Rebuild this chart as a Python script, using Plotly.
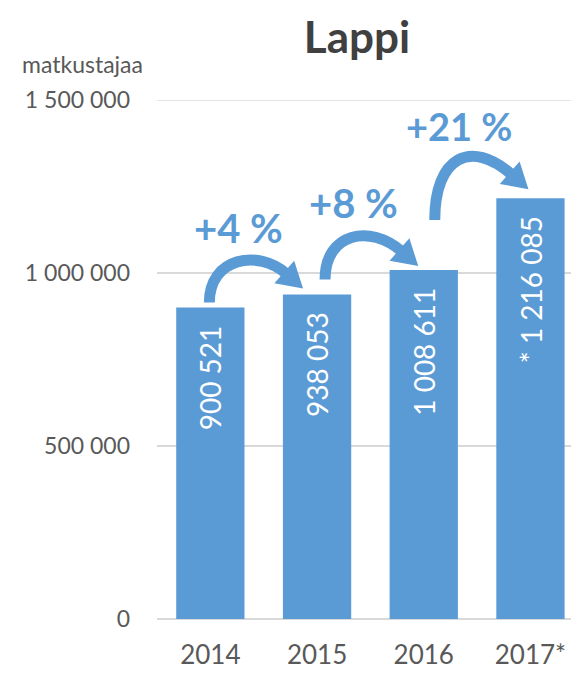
import plotly.graph_objects as go
import math

# ---- data ----
years = ["2014", "2015", "2016", "2017*"]
travellers = [900521, 938053, 1008611, 1216085]
label_prefix = ["", "", "", "* "]
y_tick_vals = [0, 500000, 1000000, 1500000]
y_tick_text = ["0", "500 000", "1 000 000", "1 500 000"]

BLUE = "#5B9BD5"
GREY = "#595959"
FONT = "Lato"

W, H = 571, 673
L, R, T, B = 157, 571, 100, 619
X0, X1 = -0.5, 3.38
Y0, Y1 = 0, 1500000

def px_x(xd):
    return L + (xd - X0) / (X1 - X0) * (R - L)

def px_y(yd):
    return B - (yd - Y0) / (Y1 - Y0) * (B - T)

def d_x(px):
    return X0 + (px - L) / (R - L) * (X1 - X0)

def d_y(py):
    return Y0 + (B - py) / (B - T) * (Y1 - Y0)

def fmt(v):
    return f"{v:,}".replace(",", " ")

xs = list(range(len(years)))

fig = go.Figure()
fig.add_trace(go.Bar(x=xs, y=travellers, width=0.64, marker=dict(color=BLUE, line=dict(width=0)),
                     hoverinfo="skip"))

annotations = []
# value labels inside bars
for i, v in enumerate(travellers):
    annotations.append(dict(x=i, y=v, xref="x", yref="y", text=label_prefix[i] + fmt(v),
                            textangle=-90, showarrow=False, yanchor="top", xanchor="center",
                            yshift=-16, font=dict(family=FONT, size=28, color="white")))

# curved arrows (pixel offsets relative to bar tops / centres)
arrow_tail_dx = [-1, 8, 11]
arrow_tail_dy = [-5, -15, -50]
arrow_tip_dx = [-14, -5.5, -2]
arrow_tip_dy = [-6, -4, -9]
arrow_a = [45, 47, 63]
arrow_b = [35, 39, 52]
pct_sizes = [40, 40, 38]

shapes = [dict(type="line", xref="paper", yref="y", x0=0, x1=1, y0=Y1, y1=Y1,
               line=dict(color="#D9D9D9", width=1.5), layer="below")]
for k in range(len(travellers) - 1):
    tx = px_x(k) + arrow_tail_dx[k]
    ty = px_y(travellers[k]) + arrow_tail_dy[k]
    hx = px_x(k + 1) + arrow_tip_dx[k]
    hy = px_y(travellers[k + 1]) + arrow_tip_dy[k]
    dxv, dyv = 0.75, 0.66
    n = math.hypot(dxv, dyv)
    dxv, dyv = dxv / n, dyv / n
    Lh, wh = 25, 15
    bx, by = hx - dxv * Lh, hy - dyv * Lh
    c1 = (tx, ty - arrow_a[k])
    c2 = (bx - dxv * arrow_b[k], by - dyv * arrow_b[k])
    ex, ey = bx + dxv * 3, by + dyv * 3
    path = (f"M {d_x(tx)},{d_y(ty)} C {d_x(c1[0])},{d_y(c1[1])} "
            f"{d_x(c2[0])},{d_y(c2[1])} {d_x(ex)},{d_y(ey)}")
    shapes.append(dict(type="path", path=path, xref="x", yref="y",
                       line=dict(color=BLUE, width=11), fillcolor="rgba(0,0,0,0)"))
    px_, py_ = -dyv, dxv
    p1 = (bx + px_ * wh, by + py_ * wh)
    p2 = (bx - px_ * wh, by - py_ * wh)
    tri = (f"M {d_x(hx)},{d_y(hy)} L {d_x(p1[0])},{d_y(p1[1])} "
           f"L {d_x(p2[0])},{d_y(p2[1])} Z")
    shapes.append(dict(type="path", path=tri, xref="x", yref="y",
                       line=dict(width=0), fillcolor=BLUE))
    midx = 0.125 * tx + 0.375 * c1[0] + 0.375 * c2[0] + 0.125 * bx
    topy = 0.125 * ty + 0.375 * c1[1] + 0.375 * c2[1] + 0.125 * by
    pct = round((travellers[k + 1] / travellers[k] - 1) * 100)
    annotations.append(dict(x=d_x(midx + 2), y=d_y(topy - 34), xref="x", yref="y",
                            text=f"<b>+{pct} %</b>", showarrow=False,
                            xanchor="center", yanchor="middle",
                            font=dict(family=FONT, size=pct_sizes[k], color=BLUE)))

# axis title (positioned in paper coordinates relative to plot area)
annotations.append(dict(x=(82 - L) / (R - L), y=(B - 64) / (B - T), xref="paper", yref="paper",
                        text="matkustajaa", showarrow=False, xanchor="center", yanchor="middle",
                        font=dict(family=FONT, size=23, color=GREY)))

fig.update_layout(
    width=W, height=H,
    margin=dict(l=L, r=W - R, t=T, b=H - B, pad=0),
    paper_bgcolor="white", plot_bgcolor="white",
    showlegend=False,
    title=dict(text="<b>Lappi</b>", x=357 / W, xanchor="center", y=1 - 38 / H, yanchor="middle",
               font=dict(family=FONT, size=44, color="#404040")),
    xaxis=dict(range=[X0, X1], tickvals=xs, ticktext=years, showgrid=False, zeroline=False,
               showline=False, ticks="", ticklabelstandoff=18,
               tickfont=dict(family=FONT, size=26, color=GREY)),
    yaxis=dict(range=[Y0, Y1], tickvals=y_tick_vals, ticktext=y_tick_text, showgrid=True,
               gridcolor="#D9D9D9", gridwidth=1.5, zeroline=True, zerolinecolor="#D9D9D9",
               zerolinewidth=1.5, showline=False, ticks="", ticklabelstandoff=26,
               tickfont=dict(family=FONT, size=23, color=GREY)),
    shapes=shapes,
    annotations=annotations,
)

fig.write_html("out.html")
